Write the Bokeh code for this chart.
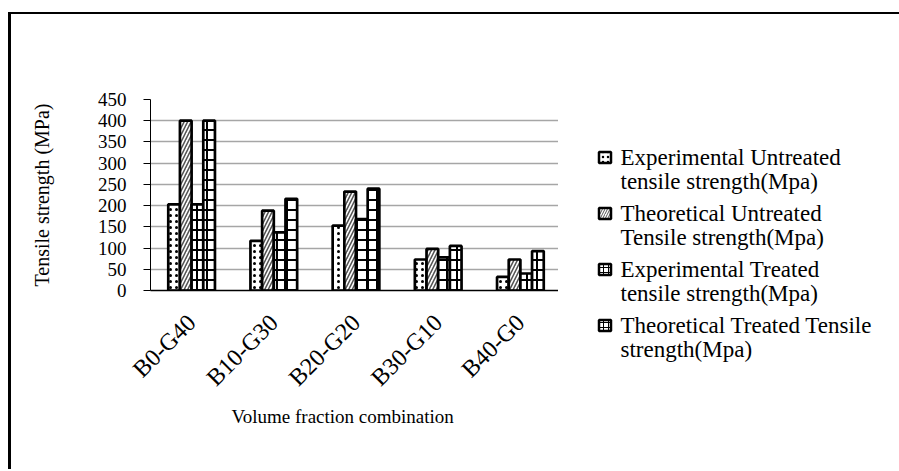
import math
from bokeh.plotting import figure
from bokeh.models import (ColumnDataSource, FactorRange, FixedTicker, Range1d,
                          Title)
from bokeh.core.properties import value
from bokeh.transform import dodge
from bokeh.embed import file_html
from bokeh.resources import INLINE

# Tensile strength by volume fraction combination (MPa)
combos = ["B0-G40", "B10-G30", "B20-G20", "B30-G10", "B40-G0"]
exp_untreated = [203, 117, 153, 73, 32]
theo_untreated = [400, 188, 233, 98, 73]
exp_treated = [203, 137, 168, 78, 40]
theo_treated = [400, 216, 240, 105, 93]
y_ticks = [0, 50, 100, 150, 200, 250, 300, 350, 400, 450]

series_labels = [
    ("Experimental Untreated", "tensile strength(Mpa)"),
    ("Theoretical Untreated", "Tensile  strength(Mpa)"),
    ("Experimental Treated", "tensile strength(Mpa)"),
    ("Theoretical Treated Tensile", "strength(Mpa)"),
]

FONT = "Liberation Serif"
H = 457

source = ColumnDataSource(dict(
    combo=combos,
    eu=exp_untreated,
    tu=theo_untreated,
    et=exp_treated,
    tt=theo_treated,
))

# ---- main bar chart ----
p = figure(
    x_range=FactorRange(*combos),
    y_range=Range1d(0, 450),
    width=550, height=H,
    output_backend="svg",
    toolbar_location=None,
    min_border_left=139, min_border_right=0,
    min_border_top=85, min_border_bottom=181,
)
p.styles = {
    "margin-left": "8px",
    "margin-top": "12px",
    "border-left": "3px solid black",
    "border-top": "2px solid black",
}
p.outline_line_color = None
p.background_fill_color = "white"
p.border_fill_color = "white"

bw = 0.142
styles = [
    ("eu", dict(hatch_pattern=".", hatch_scale=6, hatch_weight=3.0, hatch_color="black")),
    ("tu", dict(hatch_pattern="/", hatch_scale=7, hatch_weight=1.6, hatch_color="#555555")),
    ("et", dict(hatch_pattern="+", hatch_scale=10, hatch_weight=2.0, hatch_color="black")),
    ("tt", dict(hatch_pattern="+", hatch_scale=10, hatch_weight=2.0, hatch_color="black")),
]
offsets = [-1.5 * bw, -0.5 * bw, 0.5 * bw, 1.5 * bw]

for (col, st), off in zip(styles, offsets):
    p.vbar(x=dodge("combo", off, range=p.x_range), top=col, width=bw,
           source=source, fill_color="white", line_color="black",
           line_width=2.7, **st)

# y axis
p.yaxis.ticker = FixedTicker(ticks=y_ticks)
p.yaxis.axis_label = "Tensile strength (MPa)"
p.yaxis.axis_label_text_font = FONT
p.yaxis.axis_label_text_font_size = "20px"
p.yaxis.axis_label_text_font_style = "normal"
p.yaxis.axis_label_text_color = "black"
p.yaxis.axis_label_standoff = 42
p.yaxis.major_label_text_font = FONT
p.yaxis.major_label_text_font_size = "19px"
p.yaxis.major_label_text_color = "black"
p.yaxis.major_label_standoff = 17
p.yaxis.major_tick_out = 7
p.yaxis.major_tick_in = 0
p.yaxis.minor_tick_line_color = None
p.yaxis.axis_line_color = "black"
p.yaxis.major_tick_line_color = "black"

# x axis
p.xaxis.major_label_text_font = FONT
p.xaxis.major_label_text_font_size = "24px"
p.xaxis.major_label_text_color = "black"
p.xaxis.major_label_orientation = math.pi / 4
p.xaxis.major_label_standoff = 22
p.xaxis.major_tick_line_color = None
p.xaxis.axis_line_color = "black"
p.xaxis.axis_line_width = 1.5

xtitle = Title(text="Volume fraction combination", align="left", offset=81,
               text_font=FONT, text_font_size="19px", text_font_style="normal",
               text_color="black", standoff=0)
p.add_layout(xtitle, "below")

p.xgrid.grid_line_color = None
p.ygrid.grid_line_color = "#a6a6a6"
p.ygrid.grid_line_width = 1.5

# ---- legend panel, a separate canvas placed to the right ----
pad = 16
lw = 338 + pad
q = figure(
    x_range=Range1d(-pad, 338), y_range=Range1d(H, 0),
    width=lw, height=H,
    output_backend="svg", toolbar_location=None,
    x_axis_location=None, y_axis_location=None,
    min_border=0,
)
q.styles = {
    "position": "absolute",
    "left": f"{561 - pad}px",
    "top": "12px",
    "border-top": "2px solid black",
}
q.outline_line_color = None
q.grid.grid_line_color = None
q.background_fill_color = None
q.border_fill_color = None

entry_top = 143      # centre of the first label line
entry_step = 56
line_step = 24
marker_x = 43.5
text_x = 59

for i, ((col, st), (l1, l2)) in enumerate(zip(styles, series_labels)):
    yc = entry_top + i * entry_step
    mst = dict(st)
    mst["hatch_scale"] = 5
    mst["hatch_weight"] = 1.0 if i != 0 else 1.5
    q.rect(x=[marker_x], y=[yc], width=12, height=11, fill_color="white",
           line_color="black", line_width=2.5, **mst)
    q.text(x=[text_x, text_x], y=[yc, yc + line_step], text=[l1, l2],
           text_font=value(FONT), text_font_size=value("23px"),
           text_color="black", text_baseline="middle", text_align="left")

open("out.html", "w").write(file_html([p, q], INLINE))
